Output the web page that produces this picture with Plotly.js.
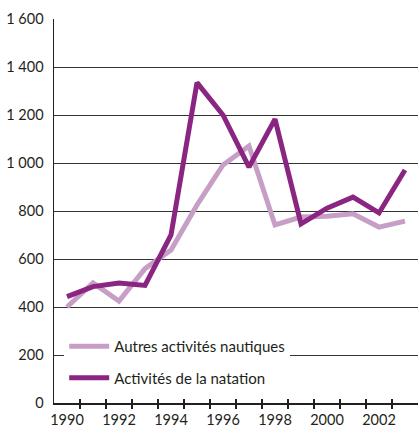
<!DOCTYPE html>
<html>
<head>
<meta charset="utf-8">
<script src="https://cdn.plot.ly/plotly-3.0.1.min.js"></script>
<style>html,body{margin:0;padding:0;background:#fff;}#chart{width:419px;height:431px;}</style>
</head>
<body>
<div id="chart"></div>
<script>
var years = [1990,1991,1992,1993,1994,1995,1996,1997,1998,1999,2000,2001,2002,2003];
var autresNautiques = [400,500,425,560,637,825,992,1071,742,775,778,788,733,758];
var natation = [443,485,500,490,700,1335,1200,983,1183,746,812,858,792,971];
var seriesNames = ["Autres activités nautiques","Activités de la natation"];
var xLabelYears = [1990,1992,1994,1996,1998,2000,2002];
var xBoundaries = [1990.5,1991.5,1992.5,1993.5,1994.5,1995.5,1996.5,1997.5,1998.5,1999.5,2000.5,2001.5,2002.5];
var yTicks = [0,200,400,600,800,1000,1200,1400,1600];

var font = {family:"Lato, 'Open Sans', sans-serif", size:14.5, color:"#231f20"};

var traces = [
  {x:years, y:autresNautiques, name:seriesNames[0], type:"scatter", mode:"lines",
   line:{color:"#c69ec6", width:5}, legendgroup:"a", xaxis:"x", yaxis:"y"},
  {x:years, y:natation, name:seriesNames[1], type:"scatter", mode:"lines",
   line:{color:"#8a2581", width:5}, legendgroup:"b", xaxis:"x2", yaxis:"y"}
];

var layout = {
  width:419, height:431,
  margin:{l:54, r:1, t:19, b:28},
  paper_bgcolor:"#fff", plot_bgcolor:"#fff",
  font:font,
  separators:", ",
  showlegend:true,
  legend:{x:0.028, y:0.19, xanchor:"left", yanchor:"top", bgcolor:"#fff",
          font:{family:font.family, size:15, color:font.color},
          traceorder:"grouped", tracegroupgap:9, itemwidth:40},
  xaxis:{range:[1989.5,2003.5], tickmode:"array", tickvals:xLabelYears,
         ticktext:xLabelYears.map(String), ticks:"", showgrid:false, zeroline:false,
         showline:true, linecolor:"#231f20", linewidth:1.5, ticklabelstandoff:3,
         minor:{tickmode:"array", tickvals:xBoundaries, ticks:"outside", ticklen:4,
                tickwidth:1.5, tickcolor:"#231f20", showgrid:false},
         fixedrange:true},
  xaxis2:{overlaying:"x", anchor:"y", side:"bottom", range:[1989.5,2003.5], tickmode:"array", tickvals:xBoundaries,
          ticks:"inside", ticklen:4, tickwidth:1.5, tickcolor:"#231f20",
          showticklabels:false, showgrid:false, zeroline:false, showline:false, fixedrange:true},
  yaxis:{range:[0,1600], tickmode:"array", tickvals:yTicks, tickformat:",d",
         ticks:"", showgrid:true, gridcolor:"#333", gridwidth:1, zeroline:false,
         showline:true, linecolor:"#231f20", linewidth:1.5, ticklabelstandoff:6,
         fixedrange:true}
};

Plotly.newPlot("chart", traces, layout, {staticPlot:true, displayModeBar:false});
</script>
</body>
</html>
